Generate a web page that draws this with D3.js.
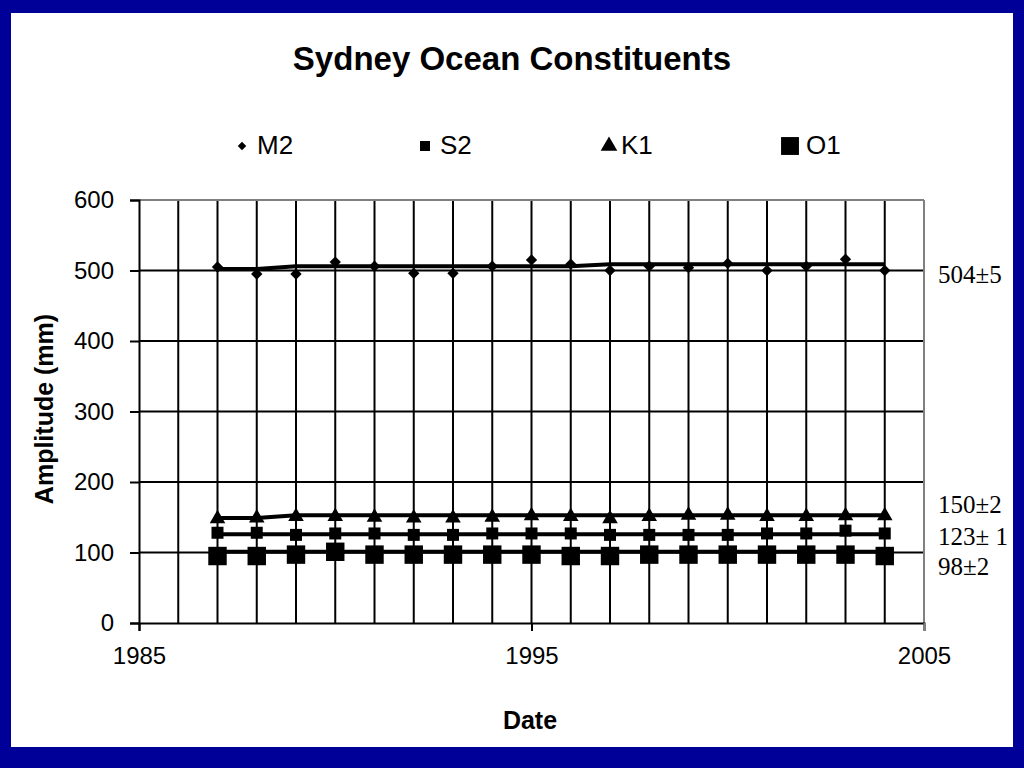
<!DOCTYPE html>
<html><head><meta charset="utf-8">
<script src="https://cdn.jsdelivr.net/npm/d3@7"></script>
<style>
body{margin:0;background:#000099;}
svg{display:block;}
text{font-family:"Liberation Sans",Arial,sans-serif;fill:#000;}
</style>
</head><body>
<svg id="chart" width="1024" height="768"></svg>
<script>
// ---- data ----
const years = [1987,1988,1989,1990,1991,1992,1993,1994,1995,1996,1997,1998,1999,2000,2001,2002,2003,2004];
const m2 = [505,495,495,512,506,496,496,506,515,509,500,506,504,510,500,506,516,500];
const s2 = [128,128,125,127,127,125,125,127,127,127,125,125,125,125,127,127,131,127];
const k1 = [148,149,151,151,150,149,149,150,152,151,148,151,153,153,151,151,152,152];
const o1 = [95,95,97,101,97,97,97,97,97,95,95,97,97,97,97,97,97,95];
const m2Mean = [502,502,506,506,506,506,506,506,506,506,509,509,509,509,509,509,509,509];
const s2Mean = [126,126,126,126,126,126,126,126,126,126,126,126,126,126,126,126,126,126];
const k1Mean = [149,149,153,153,153,153,153,153,153,153,153,153,153,153,153,153,153,153];
const o1Mean = [101,101,101,101,101,101,101,101,101,101,101,101,101,101,101,101,101,101];
const seriesNames = ["M2","S2","K1","O1"];
const summaryLabels = ["504±5","150±2","123± 1","98±2"];
const yTicks = [0,100,200,300,400,500,600];
const xTicks = [1985,1995,2005];
const gridYears = [1986,1987,1988,1989,1990,1991,1992,1993,1994,1995,1996,1997,1998,1999,2000,2001,2002,2003,2004];

// ---- layout ----
const svg = d3.select("#chart");
svg.append("rect").attr("x",0).attr("y",0).attr("width",1024).attr("height",768).attr("fill","#000099");
svg.append("rect").attr("x",11).attr("y",13).attr("width",1002).attr("height",734).attr("fill","#fff");

const x = d3.scaleLinear().domain([1985,2005]).range([139,924]);
const y = d3.scaleLinear().domain([0,600]).range([623,200]);

// gridlines
svg.append("g").selectAll("line").data(yTicks.filter(v=>v>0&&v<600)).join("line")
  .attr("x1",x(1985)).attr("x2",x(2005)).attr("y1",d=>y(d)).attr("y2",d=>y(d))
  .attr("stroke","#000").attr("stroke-width",2);
svg.append("g").selectAll("line").data(gridYears).join("line")
  .attr("x1",d=>x(d)).attr("x2",d=>x(d)).attr("y1",y(0)).attr("y2",y(600))
  .attr("stroke","#000").attr("stroke-width",2);
// plot border top/right (gray)
svg.append("line").attr("x1",x(1985)).attr("x2",x(2005)).attr("y1",y(600)).attr("y2",y(600)).attr("stroke","#808080").attr("stroke-width",2);
svg.append("line").attr("x1",x(2005)).attr("x2",x(2005)).attr("y1",y(600)).attr("y2",y(0)).attr("stroke","#808080").attr("stroke-width",2);

// axes
const yAxis = d3.axisLeft(y).tickValues(yTicks).tickSize(9).tickPadding(16).tickFormat(d3.format("d"));
const gy = svg.append("g").attr("transform",`translate(${x(1985)},0)`).call(yAxis);
const xAxis = d3.axisBottom(x).tickValues(xTicks).tickSize(8).tickPadding(16).tickFormat(d3.format("d"));
const gx = svg.append("g").attr("transform",`translate(0,${y(0)})`).call(xAxis);
[gy,gx].forEach(g=>{
  g.select(".domain").attr("stroke","#000").attr("stroke-width",2);
  g.selectAll(".tick line").attr("stroke","#000").attr("stroke-width",2);
  g.selectAll(".tick text").attr("font-size",24).attr("font-family","Liberation Sans, Arial, sans-serif").attr("fill","#000");
});
gx.select(".tick:last-child line").attr("stroke","#808080");

// series
const all = [
  {name:"M2", vals:m2, mean:m2Mean, sym:d3.symbolSquare, size:64, rot:45},
  {name:"S2", vals:s2, mean:s2Mean, sym:d3.symbolSquare, size:144, rot:0},
  {name:"K1", vals:k1, mean:k1Mean, sym:d3.symbolTriangle, size:105, rot:0},
  {name:"O1", vals:o1, mean:o1Mean, sym:d3.symbolSquare, size:340, rot:0}
];
const line = d3.line().x(d=>x(d[0])).y(d=>y(d[1]));
all.forEach(s=>{
  svg.append("path").datum(years.map((yr,i)=>[yr,s.mean[i]]))
    .attr("d",line).attr("fill","none").attr("stroke","#000").attr("stroke-width",4);
  svg.append("g").selectAll("path").data(years.map((yr,i)=>[yr,s.vals[i]])).join("path")
    .attr("d",d3.symbol().type(s.sym).size(s.size))
    .attr("transform",d=>`translate(${x(d[0])},${y(d[1])}) rotate(${s.rot})`)
    .attr("fill","#000");
});

// legend
const legendX = [242,425,609,790];
const legendSizes = [36,100,120,320];
const lg = svg.append("g");
all.forEach((s,i)=>{
  lg.append("path").attr("d",d3.symbol().type(s.sym).size(legendSizes[i]))
    .attr("transform",`translate(${legendX[i]},146) rotate(${s.rot})`).attr("fill","#000");
  lg.append("text").attr("x",legendX[i]+(i===3?16:(i===2?12:15))).attr("y",154)
    .attr("font-size",26).text(seriesNames[i]);
});

// title & axis titles
svg.append("text").attr("x",512).attr("y",70).attr("text-anchor","middle")
  .attr("font-size",33).attr("font-weight","bold").text("Sydney Ocean Constituents");
svg.append("text").attr("x",530).attr("y",729).attr("text-anchor","middle")
  .attr("font-size",25).attr("font-weight","bold").text("Date");
svg.append("text").attr("transform","translate(53,409) rotate(-90)").attr("text-anchor","middle")
  .attr("font-size",25).attr("font-weight","bold").text("Amplitude (mm)");

// summary labels
const labelY = [283,513,545,575];
svg.append("g").selectAll("text").data(summaryLabels).join("text")
  .attr("x",938).attr("y",(d,i)=>labelY[i])
  .attr("font-size",25)
  .style("font-family","Liberation Serif, Times New Roman, serif")
  .text(d=>d);
</script>
</body></html>
